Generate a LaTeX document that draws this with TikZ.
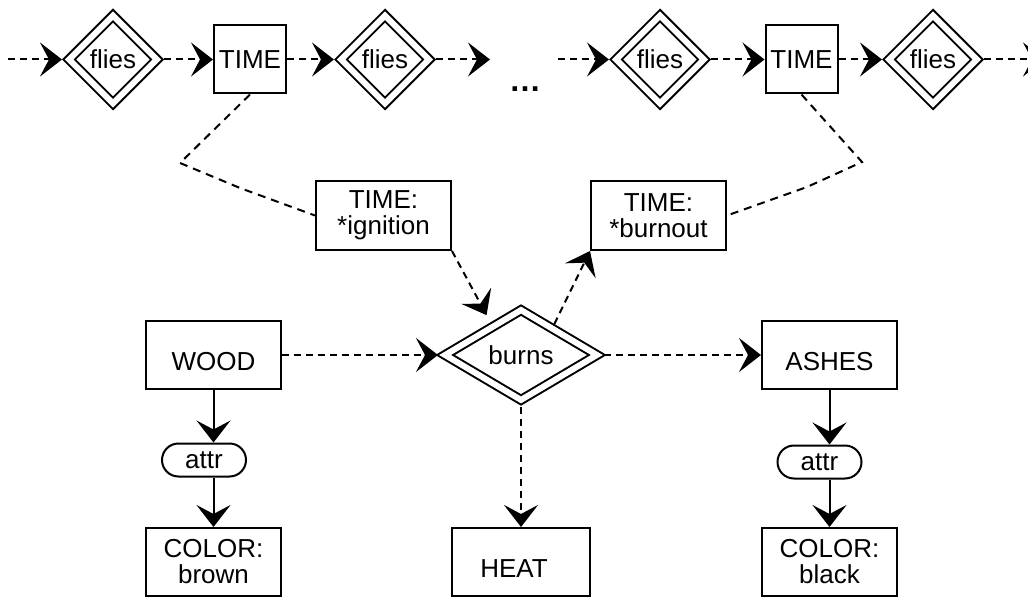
\documentclass[tikz,border=0pt]{standalone}
\usepackage{fontspec}
\setmainfont{Liberation Sans}
\usetikzlibrary{arrows.meta,shapes.geometric,shapes.misc,calc}
\begin{document}
\begin{tikzpicture}[x=1pt,y=-1pt,
  every node/.style={font=\fontsize{26}{26}\selectfont},
  box/.style={draw, rectangle, line width=2pt, inner sep=0pt, align=center, minimum width=135pt, minimum height=68pt},
  lowtext/.style={text height=30pt, text depth=0pt},
  timebox/.style={draw, rectangle, line width=2pt, inner sep=0pt, minimum width=72pt, minimum height=68pt},
  rel/.style={draw, diamond, double, double distance=6pt, line width=2pt, inner sep=0pt, outer sep=5pt, aspect=1, minimum width=92pt, minimum height=92pt},
  bigrel/.style={rel, aspect=1.66, minimum width=156pt, minimum height=94pt},
  attrnode/.style={draw, rounded rectangle, line width=2pt, inner sep=0pt, minimum width=84pt, minimum height=33pt},
  arr/.style={line width=2pt, -{Stealth[length=22pt,width=34pt,inset=9pt]}},
  dsh/.style={dash pattern=on 7pt off 5pt},
  link/.style={line width=2pt, dash pattern=on 8pt off 6pt},
]
\clip (0,0) rectangle (1028,599);
% top row
\coordinate (s1) at (8,59.5);
\node[rel] (d1) at (113,59.5) {flies};
\node[timebox] (t1) at (250,59.5) {TIME};
\node[rel] (d2) at (385,59.5) {flies};
\coordinate (e1) at (490,59.5);
\node[font=\bfseries\fontsize{32}{32}\selectfont, anchor=base] (dots) at (525,92) {…};
\coordinate (s2) at (558,59.5);
\node[rel] (d3) at (660,59.5) {flies};
\node[timebox] (t2) at (801.5,59.5) {TIME};
\node[rel] (d4) at (933,59.5) {flies};
\coordinate (e2) at (1045,59.5);
% middle
\node[box, minimum height=69pt] (ign) at (383.5,215.5) {TIME:\\*ignition};
\node[box, minimum height=69pt] (bo) at (658.5,215.5) {TIME:\\*burnout};
\node[bigrel] (burns) at (521,355) {burns};
% bottom
\node[box, lowtext] (wood) at (213.5,355) {WOOD};
\node[box, lowtext] (ashes) at (829.5,355) {ASHES};
\node[attrnode] (attrL) at (204,460) {attr};
\node[attrnode] (attrR) at (819.5,462) {attr};
\node[box] (brown) at (213.5,562) {COLOR:\\brown};
\node[box] (black) at (829.5,562) {COLOR:\\black};
\node[box, lowtext, minimum width=138pt] (heat) at (521,562) {HEAT\hspace*{14pt}};
% connectors top
\draw[arr,dsh] (s1) -- (d1);
\draw[arr,dsh] (d1) -- (t1);
\draw[arr,dsh] (t1) -- (d2);
\draw[arr,dsh] (d2) -- (e1);
\draw[arr,dsh] (s2) -- (d3);
\draw[arr,dsh] (d3) -- (t2);
\draw[arr,dsh] (t2) -- (d4);
\draw[arr,dsh] (d4) -- (e2);
% links to time values
\draw[link] (t1.south) -- (180,163) -- (240,188) -- (ign.west);
\draw[link] (t2.south) -- (862,162) -- (807,187) -- (bo.east);
\draw[arr,dsh,shorten >=8pt] (ign.south east) -- (burns.133);
\draw[arr,dsh] (burns.43) -- (bo.south west);
% bottom connectors
\draw[arr,dsh] (wood.east) -- (burns.west);
\draw[arr,dsh] (burns.east) -- (ashes.west);
\draw[arr,dsh] (burns.south) -- (heat.north);
\draw[arr] (wood.south) -- (wood.south |- attrL.north);
\draw[arr] (wood.south |- attrL.south) -- (brown.north);
\draw[arr] (ashes.south) -- (ashes.south |- attrR.north);
\draw[arr] (ashes.south |- attrR.south) -- (black.north);
\end{tikzpicture}
\end{document}
